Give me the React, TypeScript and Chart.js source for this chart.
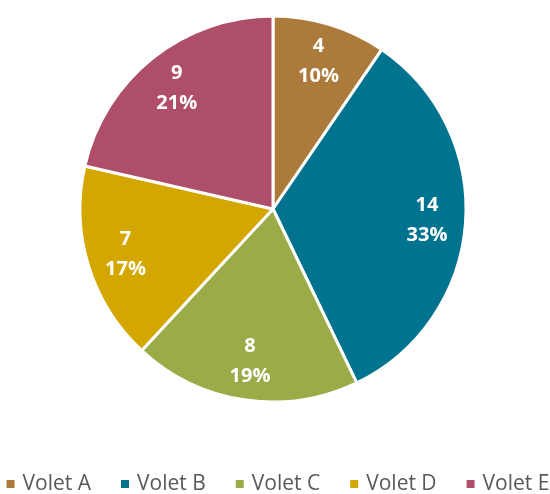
import React, { useEffect, useRef } from "react";
import { Chart, registerables } from "chart.js";

Chart.register(...registerables);

const categories = ["Volet A", "Volet B", "Volet C", "Volet D", "Volet E"];
const values = [4, 14, 8, 7, 9];
const colors = ["#AC7A3A", "#00738F", "#9AAB48", "#D4A600", "#AE4E69"];

const labelPlugin = {
  id: "sliceLabels",
  afterDatasetsDraw(chart: any) {
    const ctx = chart.ctx;
    const meta = chart.getDatasetMeta(0);
    const data = chart.data.datasets[0].data as number[];
    const total = data.reduce((a, b) => a + b, 0);
    ctx.save();
    ctx.fillStyle = "#FFFFFF";
    ctx.font = "bold 20px 'Open Sans'";
    ctx.textAlign = "center";
    ctx.textBaseline = "middle";
    meta.data.forEach((arc: any, i: number) => {
      const { x, y, startAngle, endAngle, outerRadius } = arc.getProps(
        ["x", "y", "startAngle", "endAngle", "outerRadius"],
        true
      );
      const mid = (startAngle + endAngle) / 2;
      const r = outerRadius * 0.8;
      const cx = x + Math.cos(mid) * r;
      const cy = y + Math.sin(mid) * r;
      const pct = Math.round((data[i] / total) * 100) + "%";
      ctx.fillText(String(data[i]), cx, cy - 15);
      ctx.fillText(pct, cx, cy + 15);
    });
    ctx.restore();
  },
};

const legendPlugin = {
  id: "bottomLegend",
  afterDraw(chart: any) {
    const ctx = chart.ctx;
    const labels = chart.data.labels as string[];
    const bg = chart.data.datasets[0].backgroundColor as string[];
    ctx.save();
    ctx.font = "21px 'Open Sans'";
    ctx.textBaseline = "middle";
    ctx.textAlign = "left";
    const box = 8;
    const gap = 8;
    const itemGap = 30;
    const widths = labels.map((l) => box + gap + ctx.measureText(l).width);
    const total = widths.reduce((a, b) => a + b, 0) + itemGap * (labels.length - 1);
    let x = 278 - total / 2;
    const y = 484;
    labels.forEach((l, i) => {
      ctx.fillStyle = bg[i];
      ctx.fillRect(x, y - 4, box, box);
      ctx.fillStyle = "#595959";
      ctx.fillText(l, x + box + gap, y);
      x += widths[i] + itemGap;
    });
    ctx.restore();
  },
};

export default function App() {
  const ref = useRef<HTMLCanvasElement>(null);
  useEffect(() => {
    if (!ref.current) return;
    const chart = new Chart(ref.current, {
      type: "pie",
      data: {
        labels: categories,
        datasets: [
          {
            data: values,
            backgroundColor: colors,
            borderColor: "#FFFFFF",
            borderWidth: 3,
            radius: 193,
          },
        ],
      },
      options: {
        responsive: false,
        animation: false,
        layout: { padding: { top: 16, left: 0, right: 4, bottom: 92 } },
        plugins: {
          tooltip: { enabled: false },
          legend: { display: false },
        },
      },
      plugins: [labelPlugin, legendPlugin],
    });
    return () => chart.destroy();
  }, []);
  return (
    <div style={{ position: "absolute", left: 0, top: 0, width: 550, height: 494, background: "#fff" }}>
      <canvas ref={ref} width={550} height={494} />
    </div>
  );
}
